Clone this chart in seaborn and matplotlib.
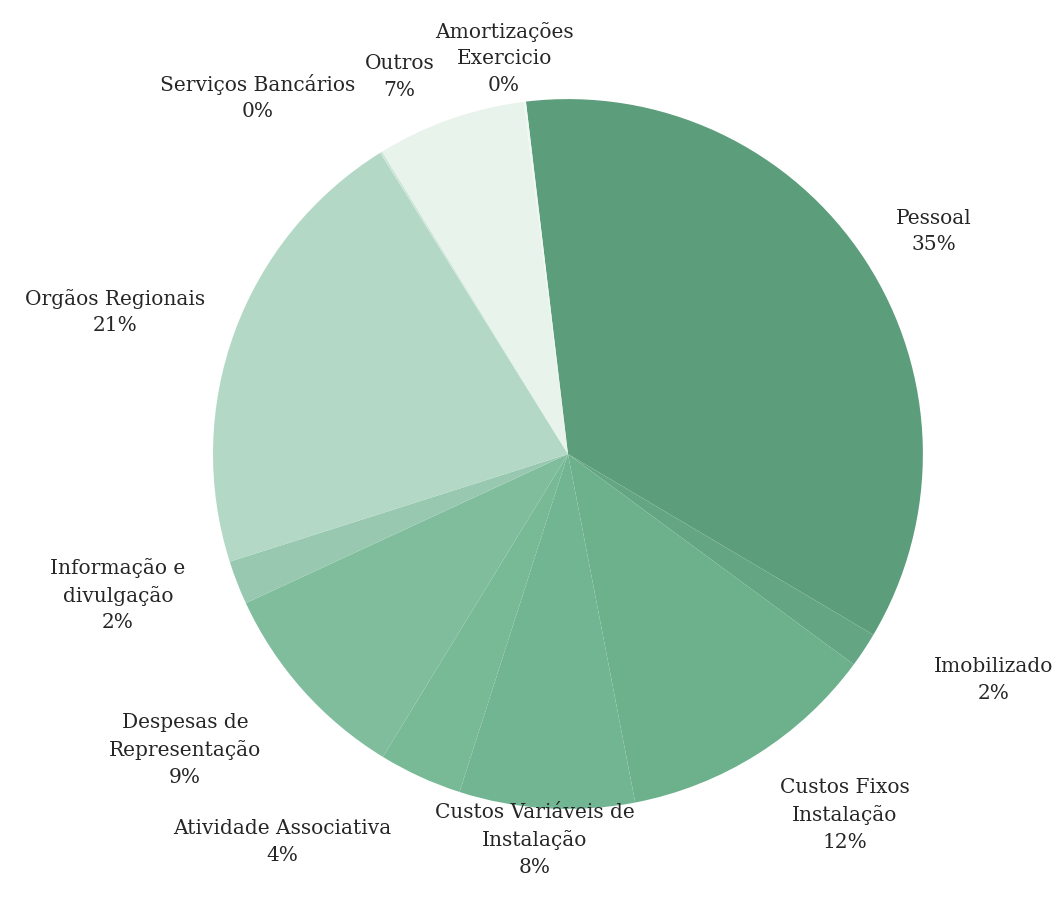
import matplotlib
matplotlib.use("Agg")
import matplotlib.pyplot as plt
import seaborn as sns

# dados (percentagens aproximadas pelos ângulos das fatias)
categorias = ['Pessoal', 'Imobilizado', 'Custos Fixos\nInstalação',
              'Custos Variáveis de\nInstalação', 'Atividade Associativa',
              'Despesas de\nRepresentação', 'Informação e\ndivulgação',
              'Orgãos Regionais', 'Serviços Bancários', 'Outros',
              'Amortizações\nExercicio']
valores = [35.5, 1.6, 11.9, 8.0, 3.8, 9.4, 2.0, 21.1, 0.1, 6.8, 0.1]
rotulos_pct = ['35%', '2%', '12%', '8%', '4%', '9%', '2%', '21%', '0%', '7%', '0%']

cores = ['#5c9d7b', '#64a683', '#6cb08c', '#72b592', '#78b996', '#7fbd9d',
         '#98c9b0', '#b3d8c6', '#cde5d8', '#e8f3ec', '#f0f7f3']

# posição dos rótulos (em raios, relativo ao centro)
pos_rotulos = [(1.03, 0.63), (1.2, -0.634), (0.78, -1.014), (-0.093, -1.085),
               (-0.806, -1.09), (-1.079, -0.831), (-1.268, -0.394), (-1.276, 0.403),
               (-0.873, 1.008), (-0.475, 1.065), (-0.18, 1.118)]

sns.set_theme(style='white')
plt.rcParams['font.family'] = ['DejaVu Serif']

fig = plt.figure(figsize=(10.61, 9.04), dpi=100)
ax = fig.add_axes([0, 0, 1, 1])

ax.pie(valores, colors=cores, startangle=96.8, counterclock=False,
       radius=1.0, wedgeprops={'linewidth': 0})

for cat, pct, (x, y) in zip(categorias, rotulos_pct, pos_rotulos):
    ax.text(x, y, cat + '\n' + pct, ha='center', va='center',
            fontsize=14.5, color='#262626', linespacing=1.5)

ax.set_xlim(-1.6, 1.389)
ax.set_ylim(-1.265, 1.282)
ax.set_aspect('equal')
ax.axis('off')

fig.savefig('out.png', dpi=100)
